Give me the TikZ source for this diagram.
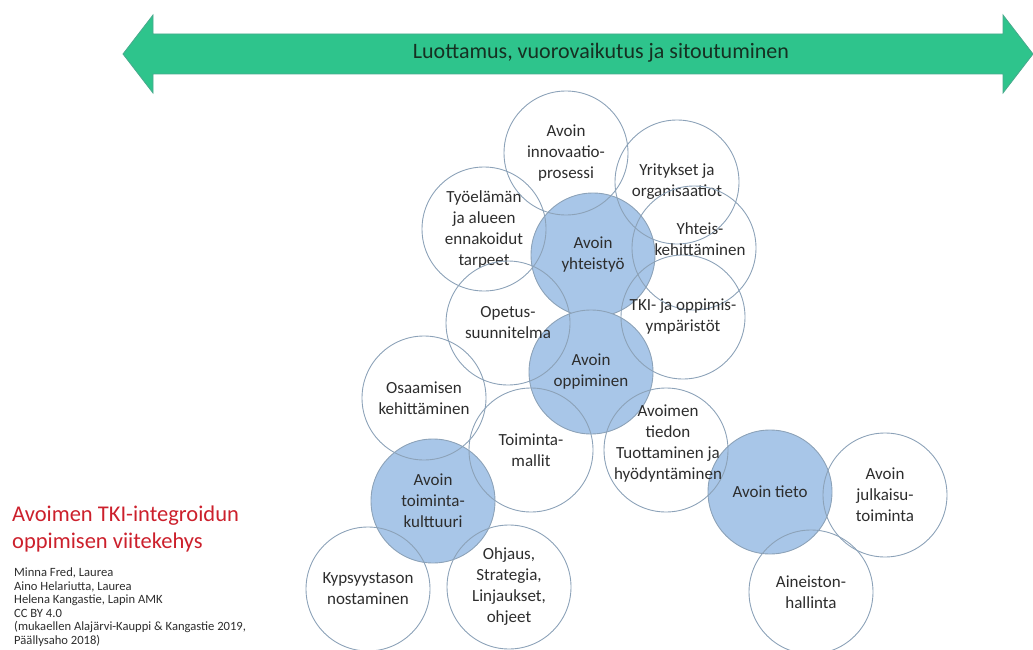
\documentclass[tikz,border=0pt]{standalone}
\usepackage{fontspec}
\setmainfont{Carlito}
\usepackage{xcolor}
\usepackage{tikz}

\definecolor{arrowgreen}{RGB}{46,196,140}
\definecolor{arrowedge}{RGB}{72,170,140}
\definecolor{bandtext}{RGB}{22,48,34}
\definecolor{coreblue}{RGB}{168,198,232}
\definecolor{ringgrey}{RGB}{140,162,184}
\definecolor{titlered}{RGB}{204,32,44}
\definecolor{textgrey}{RGB}{45,45,45}

\tikzset{
  label text/.style={align=center, text=textgrey, font=\fontsize{17}{21}\selectfont},
  topic/.style={label text, circle, minimum size=124pt, inner sep=0pt, draw=ringgrey, line width=0.9pt},
  core/.style={topic, fill=coreblue},
  credit/.style={anchor=west, inner sep=0pt, text=textgrey, font=\fontsize{12.6}{13.5}\selectfont}
}

\begin{document}
\begin{tikzpicture}[x=1pt, y=-1pt]
            \useasboundingbox (0,0) rectangle (1033,650);

            % double arrow
            \filldraw[fill=arrowgreen, draw=arrowedge, line width=0.8pt] (123,54) -- (153,15) -- (153,34) -- (1003,34) -- (1003,15)
                -- (1033,54) -- (1003,93) -- (1003,74) -- (153,74) -- (153,93) -- cycle;
            \node[text=bandtext, font=\fontsize{22}{26}\selectfont] (band) at (601,53)
                {Luottamus, vuorovaikutus ja sitoutuminen};

            % filled cores first
            \node[core] (yhteis) at (593,255) {};
            \node[core] (oppim) at (591,372) {};
            \node[core] (kulttuuri) at (433,501) {};
            \node[core] (tieto) at (770,492) {};

            % open circles
            \node[topic] (innov) at (566,153) {Avoin\\innovaatio-\\prosessi};
            \node[topic] (yritys) at (677,182) {Yritykset ja\\organisaatiot};
            \node[topic] (tyoel) at (484,229) {Työelämän\\ja alueen\\ennakoidut\\tarpeet};
            \node[topic] (yhtkeh) at (694,248) {};
            \node[topic] (opetus) at (508,323) {Opetus-\\suunnitelma};
            \node[topic] (tki) at (683,317) {TKI- ja oppimis-\\ympäristöt};
            \node[topic] (osaam) at (424,398) {Osaamisen\\kehittäminen};
            \node[topic] (toimm) at (531,450) {Toiminta-\\mallit};
            \node[topic] (tiedon) at (666,450) {};
            \node[topic] (kypsyys) at (368,589) {Kypsyystason\\nostaminen};
            \node[topic] (ohjaus) at (509,587) {Ohjaus,\\Strategia,\\Linjaukset,\\ohjeet};
            \node[topic] (julkaisu) at (885,495) {Avoin\\julkaisu-\\toiminta};
            \node[topic] (aineisto) at (811,592) {Aineiston-\\hallinta};

            % texts of the cores and shifted labels
            \node[label text] (yhteistxt) at (yhteis) {Avoin\\yhteistyö};
            \node[label text] (oppimtxt) at (oppim) {Avoin\\oppiminen};
            \node[label text] (kulttxt) at (kulttuuri) {Avoin\\toiminta-\\kulttuuri};
            \node[label text] (tietotxt) at (tieto) {Avoin tieto};
            \node[label text] (yhtkehtxt) at (700,239) {Yhteis-\\kehittäminen};
            \node[label text] (tiedontxt) at (668,444) {Avoimen\\tiedon\\Tuottaminen ja\\hyödyntäminen};

            % title and credits
            \node[anchor=west, inner sep=0pt, align=left, text=titlered, font=\fontsize{22.5}{27}\selectfont] (title) at (12,529)
                {Avoimen TKI-integroidun\\oppimisen viitekehys};
            \node[credit] (c1) at (14,573) {Minna Fred, Laurea};
            \node[credit] (c2) at (14,586.5) {Aino Helariutta, Laurea};
            \node[credit] (c3) at (14,600) {Helena Kangastie, Lapin AMK};
            \node[credit] (c4) at (14,613.5) {CC BY 4.0};
            \node[credit] (c5) at (14,627) {(mukaellen Alajärvi-Kauppi \& Kangastie 2019,};
            \node[credit] (c6) at (14,640.5) {Päällysaho 2018)};
        \end{tikzpicture}
\end{document}
